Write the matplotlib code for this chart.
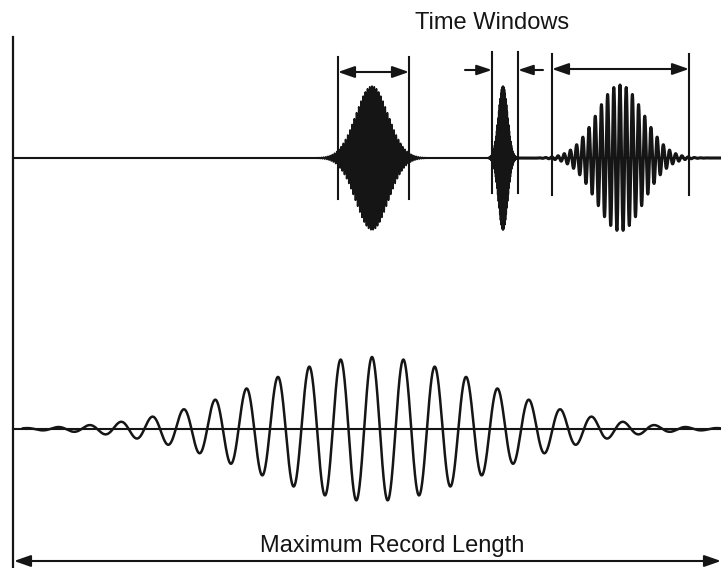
import matplotlib
matplotlib.use("Agg")
import matplotlib.pyplot as plt
import numpy as np

W, H = 721, 568

# top trace: three short wave packets (pixel units of the picture)
packet_centers = [372, 503, 620]
packet_sigmas = [16, 4.5, 23.5]
packet_periods = [2.2, 0.7, 6.2]
packet_amps = [72, 72, 73]
packet_lw = [1.3, 1.3, 2.2]
top_base_y = 158

# time windows around each packet
win_left = [338, 492, 552]
win_right = [409, 518, 689]
win_top = [57, 52, 54]
win_bottom = [199, 193, 195]
win_arrow_y = [72, 70, 69]
# narrow window gets arrows pointing inward from outside
narrow_tails = [465, 543]

# bottom trace: one long packet
long_center = 372
long_sigma = 117
long_period = 31.4
long_amp = 72
bottom_base_y = 429

axis_x = 13
axis_top = 37
record_arrow_y = 561
record_span = [14, 721]

col = "#151515"
plt.rcParams['font.family'] = ['Liberation Sans', 'DejaVu Sans']

fig = plt.figure(figsize=(W / 100, H / 100), dpi=100)
ax = fig.add_axes([0, 0, 1, 1])
ax.set_xlim(0, W)
ax.set_ylim(H, 0)
ax.axis("off")

# left axis line and baselines
ax.plot([axis_x, axis_x], [axis_top, H], color=col, lw=1.6)
ax.plot([axis_x, W], [top_base_y, top_base_y], color=col, lw=1.5)
ax.plot([axis_x, W], [bottom_base_y, bottom_base_y], color=col, lw=1.5)

# top packets
for c, s, p, a, lw in zip(packet_centers, packet_sigmas, packet_periods, packet_amps, packet_lw):
    x = np.arange(c - 5 * s, c + 5 * s, p / 40)
    y = top_base_y - a * np.exp(-(x - c) ** 2 / (2 * s ** 2)) * np.cos(2 * np.pi * (x - c) / p)
    ax.plot(x, y, color=col, lw=lw)

# bottom packet
xb = np.arange(axis_x + 10, W, 0.2)
yb = bottom_base_y - long_amp * np.exp(-(xb - long_center) ** 2 / (2 * long_sigma ** 2)) \
    * np.cos(2 * np.pi * (xb - long_center) / long_period)
ax.plot(xb, yb, color=col, lw=1.8)

# window lines and arrows
for i in range(3):
    for xv in (win_left[i], win_right[i]):
        ax.plot([xv, xv], [win_top[i], win_bottom[i]], color=col, lw=1.5)
    if i == 1:
        ax.annotate("", xy=(win_left[i], win_arrow_y[i]), xytext=(narrow_tails[0], win_arrow_y[i]),
                    arrowprops=dict(arrowstyle="-|>,head_length=0.9,head_width=0.3",
                                    color=col, lw=1.5, shrinkA=0, shrinkB=0))
        ax.annotate("", xy=(win_right[i], win_arrow_y[i]), xytext=(narrow_tails[1], win_arrow_y[i]),
                    arrowprops=dict(arrowstyle="-|>,head_length=0.9,head_width=0.3",
                                    color=col, lw=1.5, shrinkA=0, shrinkB=0))
    else:
        ax.annotate("", xy=(win_right[i], win_arrow_y[i]), xytext=(win_left[i], win_arrow_y[i]),
                    arrowprops=dict(arrowstyle="<|-|>,head_length=1.0,head_width=0.35",
                                    color=col, lw=1.5, shrinkA=0, shrinkB=0))

ax.annotate("", xy=(record_span[1], record_arrow_y), xytext=(record_span[0], record_arrow_y),
            arrowprops=dict(arrowstyle="<|-|>,head_length=1.0,head_width=0.35",
                            color=col, lw=1.5, shrinkA=0, shrinkB=0))

ax.text(492.5, 29, "Time Windows", ha="center", va="baseline", fontsize=17, color=col)
ax.text(392, 552, "Maximum Record Length", ha="center", va="baseline", fontsize=17, color=col)

fig.savefig("out.png", dpi=100, facecolor="white")
